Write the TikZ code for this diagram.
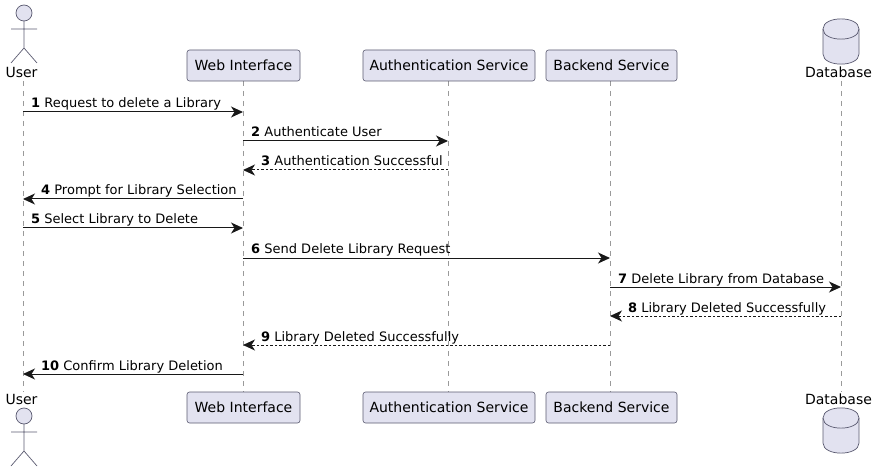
\documentclass[tikz,border=0pt]{standalone}
\usepackage{fontspec}
\setmainfont{DejaVu Sans}
\usetikzlibrary{arrows.meta}
\definecolor{pfill}{HTML}{E2E2F0}
\definecolor{pline}{HTML}{5A5A70}
\definecolor{lifec}{HTML}{9A9A9A}
\definecolor{arr}{HTML}{181818}
\tikzset{
  box/.style={draw=pline,fill=pfill,rounded corners=2.5pt,line width=.6pt,minimum height=31pt,inner xsep=0pt,inner sep=0pt,font=\fontsize{14}{16}\selectfont,text=black},
  captext/.style={font=\fontsize{14}{16}\selectfont,inner sep=0pt,text=black},
  life/.style={draw=lifec,line width=.7pt,dash pattern=on 5pt off 5pt},
  actorline/.style={draw=pline,line width=.7pt,fill=pfill},
  msg/.style={draw=arr,line width=1pt,-{Stealth[length=12pt,width=11pt,inset=3.5pt]}},
  rmsg/.style={msg,dash pattern=on 2.5pt off 2pt},
  mlabel/.style={font=\fontsize{13}{15}\selectfont,inner sep=0pt,anchor=base west,text=black},
}
\newcommand{\dbcyl}[2]{%
  \path[actorline] (#1-18,#2+10) .. controls (#1-18,#2-3.5) and (#1+18,#2-3.5) .. (#1+18,#2+10)
     -- (#1+18,#2+35) .. controls (#1+18,#2+48.5) and (#1-18,#2+48.5) .. (#1-18,#2+35) -- cycle;
  \draw[pline,line width=.7pt] (#1-18,#2+10) .. controls (#1-18,#2+23.5) and (#1+18,#2+23.5) .. (#1+18,#2+10);
}
\newcommand{\stick}[2]{%
  \path[actorline] (#1,#2) circle (8);
  \draw[pline,line width=.7pt] (#1,#2+8) -- (#1,#2+35) (#1-13,#2+16) -- (#1+13,#2+16)
    (#1-13,#2+50) -- (#1,#2+35) -- (#1+13,#2+50);
}
\begin{document}
\begin{tikzpicture}[x=1pt,y=-1pt]
\useasboundingbox (0,0) rectangle (878,473);
% lifeline end points
\foreach \n/\x in {user/23,web/243,auth/448,back/610,db/841}{
  \coordinate (\n T) at (\x,81);
  \coordinate (\n B) at (\x,392);
}
\foreach \n in {user,web,auth,back,db}{\draw[life] (\n T) -- (\n B);}
% participants
\node[box,minimum width=113pt] (webt) at (243.5,65.5) {Web Interface};
\node[box,minimum width=172pt] (autht) at (449,65.5) {Authentication Service};
\node[box,minimum width=131pt] (backt) at (611.5,65.5) {Backend Service};
\node[box,minimum width=113pt] (webb) at (243.5,407.5) {Web Interface};
\node[box,minimum width=172pt] (authb) at (449,407.5) {Authentication Service};
\node[box,minimum width=131pt] (backb) at (611.5,407.5) {Backend Service};
\node[captext] (usert) at (21.5,72.5) {User};
\node[captext] (userb) at (21.5,399.5) {User};
\node[captext] (dbt) at (838.5,72.5) {Database};
\node[captext] (dbb) at (838.5,399.5) {Database};
\stick{24}{13}
\stick{24}{416}
\dbcyl{841}{19}
\dbcyl{841}{408}
% messages
\draw[msg]  (userT |- 0,112) -- (webT |- 0,112);
\draw[msg]  (webT |- 0,141) -- (authT |- 0,141);
\draw[rmsg] (authT |- 0,170) -- (webT |- 0,170);
\draw[msg]  (webT |- 0,199) -- (userT |- 0,199);
\draw[msg]  (userT |- 0,228) -- (webT |- 0,228);
\draw[msg]  (webT |- 0,258) -- (backT |- 0,258);
\draw[msg]  (backT |- 0,287) -- (dbT |- 0,287);
\draw[rmsg] (dbT |- 0,316) -- (backT |- 0,316);
\draw[rmsg] (backT |- 0,345) -- (webT |- 0,345);
\draw[msg]  (webT |- 0,374) -- (userT |- 0,374);
% labels
\node[mlabel] (m1) at (31,108) {\textbf{1} Request to delete a Library};
\node[mlabel] (m2) at (251,137) {\textbf{2} Authenticate User};
\node[mlabel] (m3) at (261,166) {\textbf{3} Authentication Successful};
\node[mlabel] (m4) at (41,195) {\textbf{4} Prompt for Library Selection};
\node[mlabel] (m5) at (31,224) {\textbf{5} Select Library to Delete};
\node[mlabel] (m6) at (251,254) {\textbf{6} Send Delete Library Request};
\node[mlabel] (m7) at (618,283) {\textbf{7} Delete Library from Database};
\node[mlabel] (m8) at (628,312) {\textbf{8} Library Deleted Successfully};
\node[mlabel] (m9) at (261,341) {\textbf{9} Library Deleted Successfully};
\node[mlabel] (m10) at (41,370) {\textbf{10} Confirm Library Deletion};
\end{tikzpicture}
\end{document}
